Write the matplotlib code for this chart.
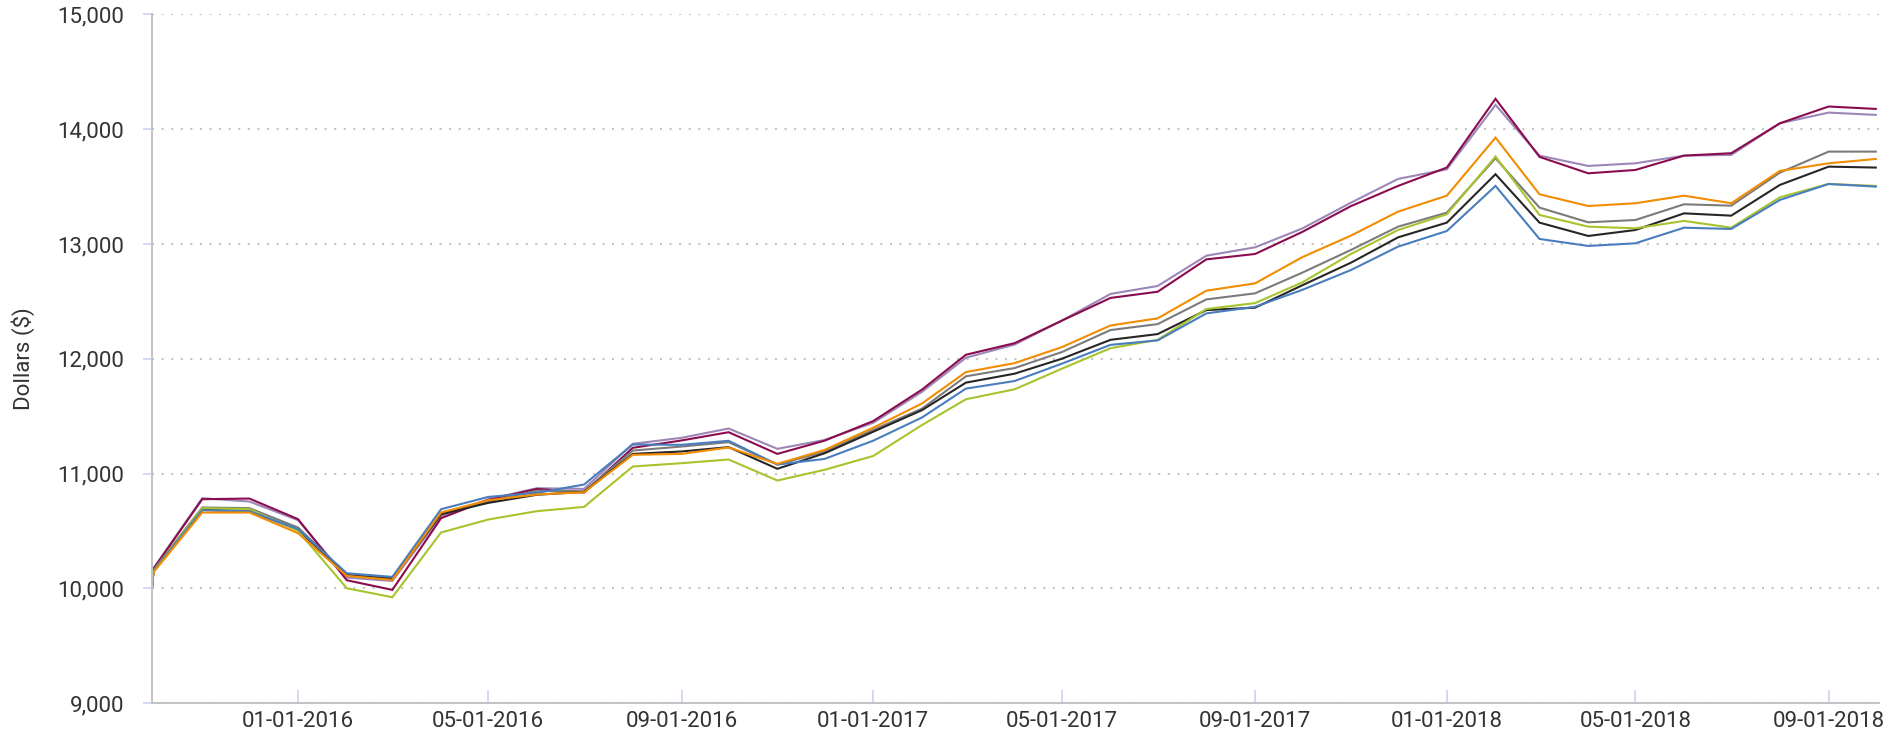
import pandas as pd
import matplotlib.pyplot as plt
import matplotlib.dates as mdates
import matplotlib.ticker as mticker

plt.rcParams["font.family"] = ["Roboto", "DejaVu Sans"]

# ── Data ──────────────────────────────────────────────────────────────────────

START_DATE = "2015-09-30"   # all series begin at $10,000
MONTHS     = pd.date_range("2015-10-01", "2018-10-01", freq="MS")

maroon = [10170, 10776, 10782, 10602, 10070, 9986, 10611, 10770, 10866, 10834, 11224, 11288,
          11360, 11171, 11286, 11457, 11731, 12035, 12136, 12332, 12530, 12584, 12866, 12913,
          13105, 13330, 13506, 13666, 14265, 13759, 13616, 13645, 13770, 13791, 14052, 14198, 14177]
purple = [10175, 10785, 10756, 10593, 10093, 10064, 10630, 10775, 10872, 10866, 11259, 11311,
          11392, 11215, 11292, 11442, 11711, 12009, 12124, 12332, 12565, 12634, 12898, 12971,
          13135, 13360, 13567, 13651, 14212, 13770, 13680, 13703, 13770, 13776, 14052, 14145, 14125]
orange = [10140, 10660, 10660, 10480, 10108, 10073, 10660, 10767, 10817, 10837, 11163, 11171,
          11227, 11084, 11205, 11399, 11610, 11884, 11962, 12101, 12290, 12352, 12593, 12657,
          12885, 13073, 13282, 13421, 13927, 13433, 13331, 13355, 13421, 13355, 13637, 13703, 13741]
gray   = [10160, 10704, 10698, 10529, 10120, 10090, 10655, 10755, 10850, 10845, 11200, 11235,
          11273, 11078, 11190, 11380, 11565, 11847, 11919, 12058, 12250, 12302, 12517, 12570,
          12750, 12948, 13151, 13273, 13747, 13317, 13189, 13209, 13346, 13334, 13622, 13805, 13805]
black  = [10150, 10683, 10672, 10510, 10113, 10085, 10645, 10744, 10815, 10840, 11171, 11192,
          11230, 11041, 11176, 11364, 11552, 11792, 11870, 12000, 12165, 12215, 12424, 12445,
          12640, 12837, 13058, 13186, 13608, 13186, 13070, 13122, 13267, 13247, 13515, 13674, 13666]
blue   = [10150, 10680, 10672, 10515, 10131, 10099, 10689, 10796, 10831, 10904, 11253, 11250,
          11285, 11078, 11127, 11286, 11488, 11740, 11806, 11957, 12121, 12160, 12395, 12453,
          12600, 12773, 12977, 13113, 13506, 13044, 12983, 13006, 13142, 13131, 13384, 13523, 13500]
green  = [10150, 10698, 10690, 10500, 10000, 9922, 10486, 10599, 10672, 10709, 11061, 11090,
          11122, 10939, 11032, 11153, 11422, 11647, 11734, 11913, 12092, 12165, 12433, 12485,
          12665, 12913, 13122, 13259, 13762, 13253, 13151, 13137, 13201, 13142, 13407, 13523, 13506]

# drawing order (last on top)
SERIES = [
    (purple, "#9d86b8"),
    (maroon, "#8a0c4e"),
    (gray,   "#7b7b7b"),
    (black,  "#262626"),
    (green,  "#a6c42b"),
    (blue,   "#4a7dbd"),
    (orange, "#f28c00"),
]

# ── Plot ──────────────────────────────────────────────────────────────────────

dates = [pd.Timestamp(START_DATE)] + list(MONTHS)

fig = plt.figure(figsize=(18.92, 7.46), dpi=100)
ax = fig.add_axes([0.0803, 0.0576, 0.9128, 0.9230])

for vals, color in SERIES:
    ax.plot(dates, [10000] + vals, color=color, linewidth=1.5, solid_joinstyle="miter")

ax.set_xlim(pd.Timestamp(START_DATE), pd.Timestamp("2018-10-03"))
ax.set_ylim(9000, 15000)

ax.yaxis.set_major_locator(mticker.MultipleLocator(1000))
ax.yaxis.set_major_formatter(mticker.FuncFormatter(lambda v, _: f"{v:,.0f}"))
ax.xaxis.set_major_locator(mdates.MonthLocator(bymonth=[1, 5, 9]))
ax.xaxis.set_major_formatter(mdates.DateFormatter("%m-%d-%Y"))

ax.grid(axis="y", color="#c4c4c4", linewidth=1.5, linestyle=(0, (1, 3.6)))
ax.set_axisbelow(True)

for side in ("top", "right"):
    ax.spines[side].set_visible(False)
ax.spines["left"].set_color("#c2c2c2")
ax.spines["bottom"].set_color("#c2c2c2")
ax.spines["left"].set_linewidth(1.4)
ax.spines["bottom"].set_linewidth(1.4)

ax.tick_params(axis="y", direction="out", length=6.5, width=1.2, color="#c9d6ee",
               labelsize=16, labelcolor="#333333", pad=13.5)
ax.tick_params(axis="x", direction="in", length=9.5, width=1.2, color="#c9d6ee",
               labelsize=16, labelcolor="#333333", pad=6)

ax.set_ylabel("Dollars ($)", fontsize=16, color="#333333", labelpad=16)

plt.savefig("out.png", dpi=100)
